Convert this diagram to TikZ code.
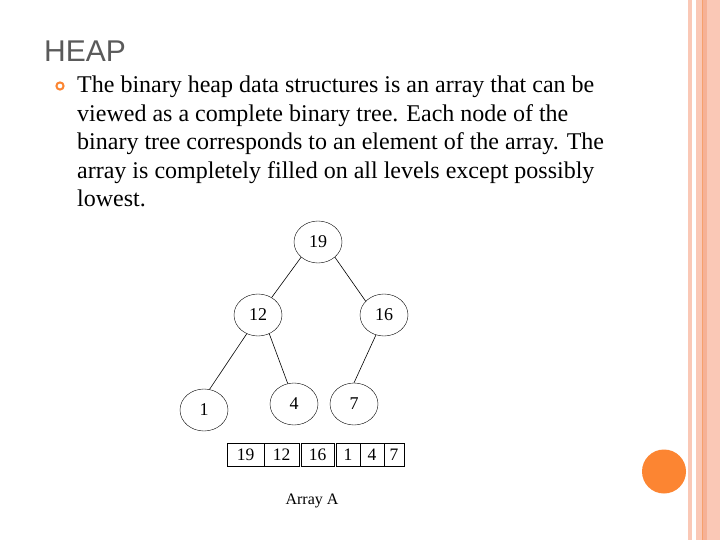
\documentclass[tikz,border=0pt]{standalone}
\usepackage{fontspec}
\setmainfont{Liberation Serif}
\newfontfamily\titlefont{Liberation Sans}
\usetikzlibrary{shapes.geometric}
\definecolor{stripe}{RGB}{250,200,182}
\definecolor{stripedark}{RGB}{244,168,136}
\definecolor{accent}{RGB}{252,133,50}
\definecolor{titlegray}{RGB}{90,90,90}
\tikzset{
  tnode/.style={draw, ellipse, minimum width=48pt, minimum height=42pt, inner sep=0pt, font=\fontsize{18}{20}\selectfont},
  cell/.style={draw, minimum height=23pt, inner sep=0pt, font=\fontsize{17.5}{19}\selectfont},
  edge/.style={draw, line width=0.6pt}
}
\begin{document}
\begin{tikzpicture}[x=1pt,y=-1pt]
\useasboundingbox (0,0) rectangle (720,540);
\fill[white] (0,0) rectangle (720,540);
% right border stripes
\fill[stripe] (688,0) rectangle (692,540);
\fill[stripe] (696,0) rectangle (720,540);
\fill[stripedark!70!stripe] (703,0) rectangle (707,540);
\draw[stripedark!80!orange, line width=0.8pt] (702.5,0) -- (702.5,540);
% orange dot
\fill[accent] (664,471.5) circle (22);
% title
\node[anchor=base west, inner sep=0pt, text=titlegray, font=\titlefont\fontsize{30}{32}\selectfont] (title) at (44,62) {HEAP};
% bullet
\draw[accent, line width=2pt] (60,86) circle (3.6);
% body text (base anchor = baseline of last line)
\node[anchor=base west, inner sep=0pt, align=left, font=\fontsize{24}{28.5}\selectfont] (body) at (77,207)
{The binary heap data structures is an array that can be\\
viewed as a complete binary tree. Each node of the\\
binary tree corresponds to an element of the array. The\\
array is completely filled on all levels except possibly\\
lowest.};
% tree
\node[tnode] (n19) at (318,242) {19};
\node[tnode] (n12) at (258,315) {12};
\node[tnode] (n16) at (384,315) {16};
\node[tnode] (n1) at (204,410) {1};
\node[tnode] (n4) at (294,404) {4};
\node[tnode] (n7) at (354,404) {7};
\draw[edge] (n19.222) -- (n12.52);
\draw[edge] (n19.318) -- (n16.143);
\draw[edge] (n12.239) -- (n1.75);
\draw[edge] (n12.301) -- (n4.107);
\draw[edge] (n16.248) -- (n7.90);
% array
\node[cell, minimum width=37pt] (a1) at (245.5,454.5) {19};
\node[cell, minimum width=35pt] (a2) at (281.5,454.5) {12};
\node[cell, minimum width=33pt] (a3) at (317.5,454.5) {16};
\node[cell, minimum width=24pt] (a4) at (348,454.5) {1};
\node[cell, minimum width=24pt] (a5) at (372,454.5) {4};
\node[cell, minimum width=20pt] (a6) at (394,454.5) {7};
\node[font=\fontsize{16}{18}\selectfont] (lbl) at (312,501) {Array A};
\end{tikzpicture}
\end{document}
